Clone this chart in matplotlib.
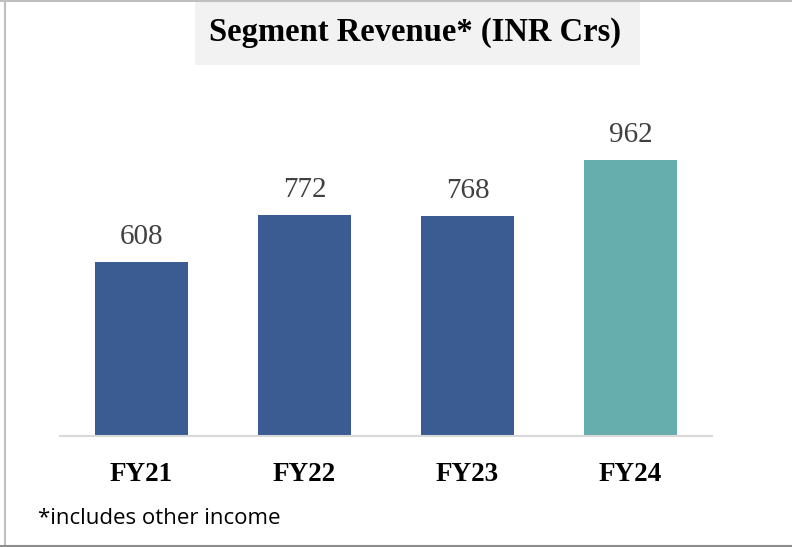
import matplotlib.pyplot as plt
from matplotlib.patches import Rectangle
from matplotlib.lines import Line2D

# data
years = ["FY21", "FY22", "FY23", "FY24"]
revenue = [608, 772, 768, 962]
bar_colors = ["#3b5b93", "#3b5b93", "#3b5b93", "#65aead"]

serif = "Liberation Serif"

fig = plt.figure(figsize=(7.92, 5.47), dpi=100)
ax = fig.add_axes([60 / 792, 111 / 547, 652 / 792, 344 / 547])

bars = ax.bar(years, revenue, width=0.565, color=bar_colors, zorder=2)
ax.set_xlim(-0.5, 3.5)
ax.set_ylim(0, 1200)

for b, v in zip(bars, revenue):
    ax.text(b.get_x() + b.get_width() / 2, v + 42, str(v), ha="center", va="bottom",
            fontsize=21, family=serif, color="#404040")

for s in ["top", "right", "left"]:
    ax.spines[s].set_visible(False)
ax.spines["bottom"].set_color("#d9d9d9")
ax.spines["bottom"].set_linewidth(1.5)
ax.set_yticks([])
ax.tick_params(axis="x", length=0, pad=19)
for lbl in ax.get_xticklabels():
    lbl.set_fontsize(19.5)
    lbl.set_fontweight("bold")
    lbl.set_family(serif)

# title box
fig.patches.append(Rectangle((195 / 792, 1 - 65 / 547), 445 / 792, 63 / 547,
                             transform=fig.transFigure, facecolor="#f2f2f2", edgecolor="none"))
fig.text(415 / 792, 1 - 32 / 547, "Segment Revenue* (INR Crs)", ha="center", va="center",
         fontsize=23.5, fontweight="bold", family=serif, color="black")

fig.text(38 / 792, 1 - 519 / 547, "*includes other income", ha="left", va="center",
         fontsize=16, family="Open Sans", color="black")

# outer frame (left/top light, bottom darker)
tf = fig.transFigure
fig.lines.append(Line2D([4.5 / 792, 4.5 / 792], [0, 1], transform=tf, color="#bfbfbf", lw=1.5))
fig.lines.append(Line2D([0, 1], [1 - 1 / 547, 1 - 1 / 547], transform=tf, color="#bfbfbf", lw=1.5))
fig.lines.append(Line2D([0, 1], [1 / 547, 1 / 547], transform=tf, color="#8c8c8c", lw=1.5))

fig.savefig("out.png", dpi=100)
